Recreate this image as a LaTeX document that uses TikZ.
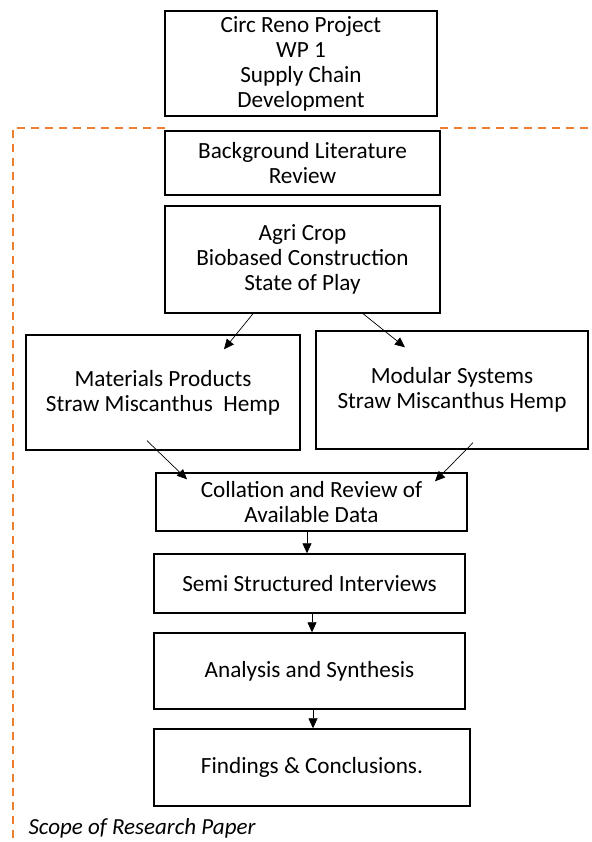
\documentclass[tikz,border=0pt]{standalone}
\usepackage{fontspec}
\setmainfont{Carlito}
\usepackage{tikz}
\usetikzlibrary{positioning, arrows.meta}

\tikzset{
    stagebox/.style={rectangle, draw, line width=1.4pt, align=center, inner sep=0pt,
        font=\fontsize{23.2}{25}\selectfont},
    flowarrow/.style={-{Triangle[length=10pt,width=9pt]}, line width=0.7pt},
    scopeline/.style={draw=scopeorange, line width=1.4pt, dash pattern=on 8pt off 6pt}
}

\begin{document}
\begin{tikzpicture}[x=1pt, y=-1pt]
        \definecolor{scopeorange}{HTML}{ED7D31}
        \useasboundingbox (0,0) rectangle (591,842);

        % scope of the paper
        \draw[scopeline] (165,128) -- (13,128) -- (13,842);
        \draw[scopeline] (440,128) -- (591,128);
        \node[anchor=west, font=\fontsize{23}{26}\selectfont\itshape] (scope) at (25,828) {Scope of Research Paper};

        \begin{scope}[every node/.style={stagebox}]
            \node[minimum width=272pt, minimum height=105pt] (proj) at (301,63.5) {Circ Reno Project\\WP 1\\Supply Chain\\Development};
            \node[minimum width=275pt, minimum height=64pt] (lit) at (302.5,163) {Background Literature\\Review};
            \node[minimum width=275pt, minimum height=107pt] (agri) at (302.5,259.5) {Agri Crop\\Biobased Construction\\State of Play};
            \node[minimum width=274pt, minimum height=115pt] (mat) at (163,392.5) {Materials Products\\Straw Miscanthus~~Hemp};
            \node[minimum width=272pt, minimum height=118pt] (mod) at (452,390) {Modular Systems\\Straw Miscanthus Hemp};
            \node[minimum width=311pt, minimum height=58pt] (coll) at (311.5,502) {Collation and Review of\\Available Data};
            \node[minimum width=311pt, minimum height=59pt] (semi) at (309.5,583.5) {Semi Structured Interviews};
            \node[minimum width=311pt, minimum height=76pt] (ana) at (309.5,671) {Analysis and Synthesis};
            \node[minimum width=316pt, minimum height=77pt] (find) at (312,767.5) {Findings \& Conclusions.};
        \end{scope}

        \coordinate (agri_l) at ([xshift=-49.5pt]agri.south);
        \coordinate (agri_r) at ([xshift=60.5pt]agri.south);
        \coordinate (mat_in) at ([xshift=61pt,yshift=-15pt]mat.north);
        \coordinate (mod_in) at ([xshift=-47pt,yshift=-17pt]mod.north);
        \coordinate (mat_out) at ([xshift=-16pt,yshift=10pt]mat.south);
        \coordinate (mod_out) at ([xshift=21pt,yshift=7pt]mod.south);
        \coordinate (coll_l) at ([xshift=-124.5pt,yshift=-7pt]coll.north);
        \coordinate (coll_r) at ([xshift=123.5pt,yshift=-9pt]coll.north);

        \draw[flowarrow] (agri_l) -- (mat_in);
        \draw[flowarrow] (agri_r) -- (mod_in);
        \draw[flowarrow] (mat_out) -- (coll_l);
        \draw[flowarrow] (mod_out) -- (coll_r);
        \draw[flowarrow] (coll.south -| 307,0) -- (semi.north -| 307,0);
        \draw[flowarrow] (semi.south -| 312,0) -- (ana.north -| 312,0);
        \draw[flowarrow] (ana.south -| 313,0) -- (find.north -| 313,0);
    \end{tikzpicture}
\end{document}
